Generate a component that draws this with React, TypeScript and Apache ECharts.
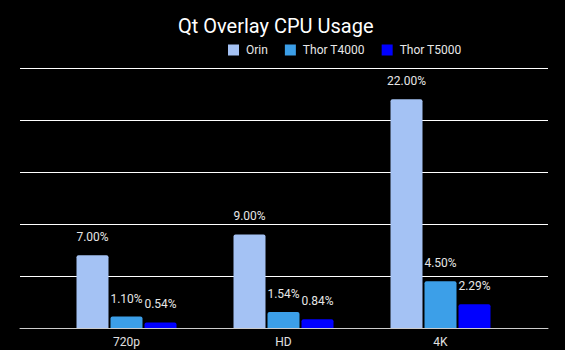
import React, { useEffect, useRef } from "react";
import * as echarts from "echarts";

const categories = ["720p", "HD", "4K"];
const orin = [7.0, 9.0, 22.0];
const thorT4000 = [1.1, 1.54, 4.5];
const thorT5000 = [0.54, 0.84, 2.29];
const seriesNames = ["Orin", "Thor T4000", "Thor T5000"];
const colors = ["#a4c2f4", "#3c9fe8", "#0000ff"];

export default function App() {
  const ref = useRef<HTMLDivElement>(null);
  useEffect(() => {
    if (!ref.current) return;
    const chart = echarts.init(ref.current, null, { renderer: "svg" });
    const font = "Roboto, Arial, sans-serif";
    const data = [orin, thorT4000, thorT5000];
    chart.setOption({
      animation: false,
      backgroundColor: "#000000",
      textStyle: { fontFamily: font },
      title: {
        text: "Qt Overlay CPU Usage",
        left: 173,
        top: 11,
        textStyle: { color: "#ffffff", fontSize: 20, fontWeight: "normal", fontFamily: font },
      },
      legend: {
        data: seriesNames,
        left: 223,
        top: 39,
        itemWidth: 11,
        itemHeight: 11,
        itemGap: 17,
        icon: "rect",
        textStyle: { color: "#e8e8e8", fontSize: 12, fontFamily: font, padding: [0, 0, 0, 2] },
      },
      grid: [
        { left: 20, right: 17, top: 68, bottom: 22 },
        { left: 48, right: 46, top: 68, bottom: 22 },
      ],
      xAxis: [
        {
          type: "value",
          gridIndex: 0,
          min: 0,
          max: 1,
          axisLine: { show: true, lineStyle: { color: "#cccccc", width: 1 } },
          axisTick: { show: false },
          axisLabel: { show: false },
          splitLine: { show: false },
        },
        {
          type: "category",
          gridIndex: 1,
          data: categories,
          axisLine: { show: false },
          axisTick: { show: false },
          axisLabel: { color: "#e0e0e0", fontSize: 12, margin: 8, fontFamily: font },
        },
      ],
      yAxis: [
        {
          type: "value",
          gridIndex: 0,
          min: 0,
          max: 25,
          interval: 5,
          axisLabel: { show: false },
          axisLine: { show: false },
          axisTick: { show: false },
          splitLine: { show: true, lineStyle: { color: "#ffffff", width: 1 } },
        },
        {
          type: "value",
          gridIndex: 1,
          min: 0,
          max: 25,
          interval: 5,
          show: false,
          splitLine: { show: false },
        },
      ],
      series: data.map((d, i) => ({
        name: seriesNames[i],
        type: "bar",
        xAxisIndex: 1,
        yAxisIndex: 1,
        data: d,
        barWidth: 32,
        barGap: "6.25%",
        itemStyle: { color: colors[i], borderRadius: [2, 2, 0, 0] },
        label: {
          show: true,
          position: "top",
          distance: 12,
          color: "#e6e6e6",
          fontSize: 12,
          fontFamily: font,
          formatter: (p: any) => p.value.toFixed(2) + "%",
        },
      })),
    });
    return () => chart.dispose();
  }, []);
  return (
    <div
      ref={ref}
      style={{ position: "fixed", left: 0, top: 0, width: 565, height: 350, background: "#000" }}
    />
  );
}
